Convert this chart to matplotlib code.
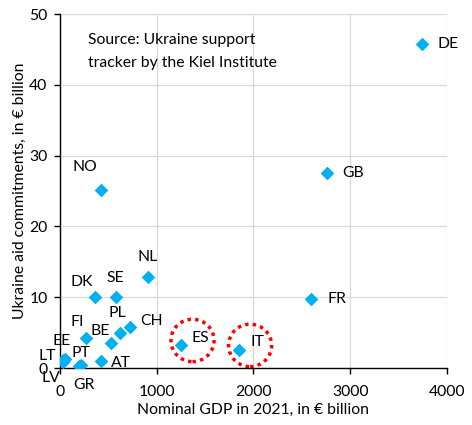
import numpy as np
import matplotlib.pyplot as plt
from matplotlib.patches import Ellipse

plt.rcParams['font.family'] = ['Lato', 'DejaVu Sans']

# country codes, GDP 2021 (EUR bn) and aid commitments (EUR bn)
countries = ['DE', 'GB', 'FR', 'NO', 'NL', 'DK', 'SE', 'PL', 'CH', 'FI',
             'BE', 'EE', 'LT', 'LV', 'PT', 'GR', 'AT', 'ES', 'IT']
gdp = [3745, 2760, 2590, 420, 905, 365, 575, 620, 725, 270,
       530, 31, 56, 33, 214, 200, 428, 1255, 1850]
aid = [45.8, 27.6, 9.8, 25.2, 12.9, 10.0, 10.1, 5.0, 5.8, 4.3,
       3.5, 1.2, 1.3, 0.9, 0.5, 0.3, 1.0, 3.3, 2.6]
highlight = ['ES', 'IT']

FS = 11.3

# label offsets in points (dx, dy, ha)
label_pos = {
    'DE': (11, 0, 'left'), 'GB': (11, 0, 'left'), 'FR': (12, 0, 'left'),
    'NO': (-11, 16, 'center'), 'NL': (0, 14, 'center'), 'DK': (-10, 11, 'center'),
    'SE': (0, 13, 'center'), 'PL': (-2, 14, 'center'), 'CH': (7, 4, 'left'),
    'FI': (-6, 11.5, 'center'), 'BE': (-8, 8.5, 'center'), 'EE': (-1, 13.5, 'center'),
    'LT': (-13, 2, 'center'), 'LV': (-9, -11.5, 'center'), 'PT': (0, 8, 'center'),
    'GR': (3.5, -14, 'center'), 'AT': (7, -1.5, 'left'), 'ES': (7, 5, 'left'),
    'IT': (8.5, 5.5, 'left'),
}

fig = plt.figure(figsize=(4.72, 4.25), dpi=100)
ax = fig.add_axes([0.127, 0.134, 0.82, 0.833])

ax.scatter(gdp, aid, marker='D', s=48, color='#00B0F0', zorder=3, linewidths=0)

for c, x, y in zip(countries, gdp, aid):
    dx, dy, ha = label_pos[c]
    ax.annotate(c, (x, y), xytext=(dx, dy), textcoords='offset points',
                ha=ha, va='center', fontsize=FS, zorder=4)

#dotted red circles round the two big laggards
for c in highlight:
    i = countries.index(c)
    ax.add_patch(Ellipse((gdp[i] + 115, aid[i] + 0.6), 445, 6.0, fill=False,
                         edgecolor='#FF0000', linewidth=2.5,
                         linestyle=(0, (1, 1.2)), zorder=2))

ax.text(0.072, 0.945, 'Source: Ukraine support\ntracker by the Kiel Institute',
        transform=ax.transAxes, ha='left', va='top', fontsize=FS,
        linespacing=1.8)

ax.set_xlim(0, 4000)
ax.set_ylim(0, 50)
ax.set_xticks([0, 1000, 2000, 3000, 4000])
ax.set_yticks([0, 10, 20, 30, 40, 50])
ax.grid(True, color='#D9D9D9', linewidth=0.9)
ax.set_axisbelow(True)
for s in ['top', 'right']:
    ax.spines[s].set_visible(False)
for s in ['left', 'bottom']:
    ax.spines[s].set_color('black')
    ax.spines[s].set_linewidth(1.0)
ax.tick_params(length=4, width=1.0, labelsize=FS, color='black')
ax.tick_params(axis='x', pad=8)
ax.tick_params(axis='y', pad=5)
ax.set_xlabel('Nominal GDP in 2021, in € billion', fontsize=FS, labelpad=3)
ax.set_ylabel('Ukraine aid commitments, in € billion', fontsize=FS, labelpad=2)

fig.savefig('out.png', dpi=100)
